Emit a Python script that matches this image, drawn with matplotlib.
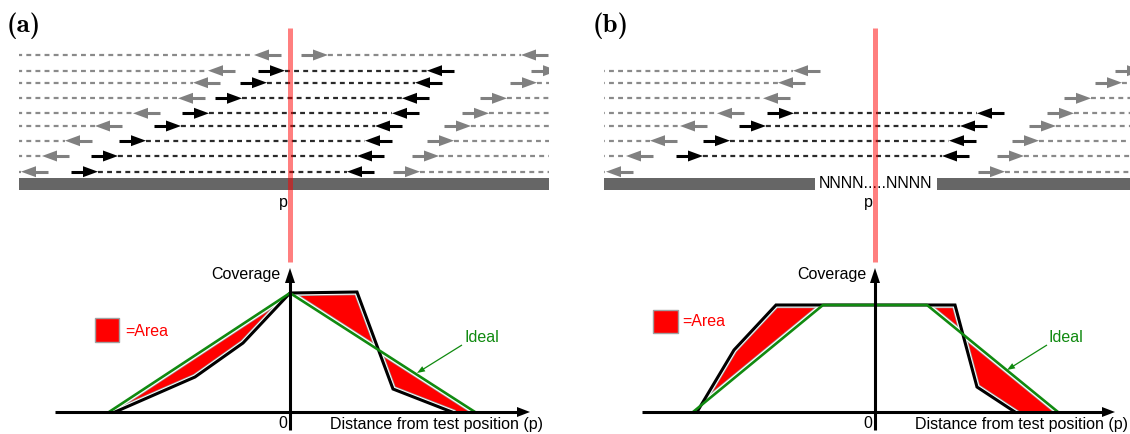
import math
import os

import matplotlib

matplotlib.use("Agg")
import matplotlib.pyplot as plt
from matplotlib.font_manager import FontProperties
from matplotlib.patches import Rectangle, Polygon

plt.rcParams["font.family"] = ["Liberation Sans", "DejaVu Sans"]
CM_BOLD = FontProperties(fname=os.path.join(matplotlib.get_data_path(), "fonts", "ttf", "cmb10.ttf"),
                         size=19.5)

# ---- layout of the read panels (pixel coordinates of the picture) ----
ROW_Y = [55, 70.7, 82.7, 98.3, 113.3, 126, 140.7, 156, 171.7]
ARROW_LEN = 27

# read pairs: (row index, tail of forward read, tail of reverse read)
# values outside the panel mean the mate lies off-screen
pairs_a = [
    (0, -100, 281), (0, 301, 548),
    (1, -100, 235), (1, 258, 454), (1, 531, 800),
    (2, -100, 220), (2, 240, 442), (2, 510, 800),
    (3, -100, 205), (3, 215, 429), (3, 480, 800),
    (4, -100, 160), (4, 182, 419), (4, 462, 800),
    (5, -100, 122), (5, 154, 402), (5, 444, 800),
    (6, -100, 92), (6, 119, 392), (6, 427, 800),
    (7, -100, 69), (7, 91, 384), (7, 412, 800),
    (8, -100, 48), (8, 71, 374), (8, 393, 800),
]
pairs_b = [
    (1, 500, 820), (1, 1115, 1400),
    (2, 500, 805), (2, 1095, 1400),
    (3, 500, 790), (3, 1064, 1400),
    (4, 500, 744), (4, 767, 1004), (4, 1047, 1400),
    (5, 500, 707), (5, 739, 987), (5, 1029, 1400),
    (6, 500, 677), (6, 703, 976), (6, 1012, 1400),
    (7, 500, 653), (7, 676, 969), (7, 997, 1400),
    (8, 500, 633), (8, 978, 1400),
]

# test position p for each panel, and reference bars (x0, x1)
P_A, P_B = 290, 875
bars_a = [(19, 549)]
bars_b = [(604, 815), (937, 1130)]

# ---- coverage profiles (pixel coordinates) ----
ideal_a_x = [109, 290, 475]
ideal_a_y = [412, 293, 412]
cov_a_x = [115, 195, 243, 290, 357, 393, 452]
cov_a_y = [412, 377, 343, 293, 292, 389, 412]

ideal_b_x = [693, 823, 927, 1058]
ideal_b_y = [412, 305, 305, 412]
cov_b_x = [697, 734, 776, 955, 977, 1015]
cov_b_y = [412, 350, 305, 305, 387, 412]

GRAY = "#808080"
DASH_GRAY = "#8a8a8a"
BLACK = "#000000"
DASH_BLACK = "#2a2a2a"
GREEN = "#108a10"


def draw_arrow(ax, x0, y0, x1, y1, color, lw, head_len, head_w, clip=None, z=4):
    length = math.hypot(x1 - x0, y1 - y0)
    ux, uy = (x1 - x0) / length, (y1 - y0) / length
    bx, by = x1 - ux * head_len, y1 - uy * head_len
    line, = ax.plot([x0, bx + ux], [y0, by + uy], color=color, lw=lw,
                    solid_capstyle="butt", zorder=z)
    px, py = -uy * head_w / 2, ux * head_w / 2
    head = Polygon([(x1, y1), (bx + px, by + py), (bx - px, by - py)],
                   closed=True, facecolor=color, edgecolor="none", zorder=z)
    ax.add_patch(head)
    if clip is not None:
        line.set_clip_path(clip)
        head.set_clip_path(clip)


def draw_reads(ax, pairs, p_x, bars, clip_box):
    clip = Rectangle(clip_box[:2], clip_box[2], clip_box[3], transform=ax.transData)
    for row, start, end in pairs:
        y = ROW_Y[row]
        spans = start < p_x < end
        col = BLACK if spans else GRAY
        dcol = DASH_BLACK if spans else DASH_GRAY
        tip_f, tip_r = start + ARROW_LEN, end - ARROW_LEN
        dl, = ax.plot([tip_f, tip_r], [y, y], color=dcol, lw=1.6,
                      linestyle=(0, (2.2, 1.9)), dash_capstyle="butt", zorder=3)
        dl.set_clip_path(clip)
        draw_arrow(ax, start, y, tip_f, y, col, 2.2, 15, 11, clip)
        draw_arrow(ax, end, y, tip_r, y, col, 2.2, 15, 11, clip)
    for x0, x1 in bars:
        ax.add_patch(Rectangle((x0, 178), x1 - x0, 12, facecolor="#666666",
                               edgecolor="none", zorder=2))
    ax.plot([p_x, p_x], [28, 262], color="red", alpha=0.5, lw=3.6,
            solid_capstyle="butt", zorder=10)
    ax.text(p_x - 7, 203, "p", fontsize=11.5, ha="center", va="center")


def draw_coverage(ax, ix, iy, cx, cy, y_axis_x, x_start):
    pts = list(zip(ix, iy)) + list(zip(cx, cy))[::-1]
    area = Polygon(pts, closed=True, facecolor="red", edgecolor="none", zorder=2)
    ax.add_patch(area)
    # grey rim and thin white gap inside the red area, along both profiles
    for lw, col, z in ((4.6, "#a0a0a0", 2.1), (3.6, "white", 2.2)):
        for xs, ys in ((cx, cy), (ix, iy)):
            rim, = ax.plot(xs, ys, color=col, lw=lw, zorder=z)
            rim.set_clip_path(area)
    ax.plot(cx, cy, color="black", lw=2.2, solid_joinstyle="miter", zorder=3)
    ax.plot(ix, iy, color=GREEN, lw=1.9, zorder=4)
    # axes
    draw_arrow(ax, x_start, 412, y_axis_x + 240, 412, "black", 2.2, 13, 10, z=5)
    draw_arrow(ax, y_axis_x, 430, y_axis_x, 268, "black", 2.2, 15, 10, z=5)
    ax.text(y_axis_x - 9, 275, "Coverage", fontsize=11.5, ha="right", va="center")
    ax.text(y_axis_x - 7, 423, "0", fontsize=11.5, ha="center", va="center")
    ax.text(y_axis_x + 40, 424, "Distance from test position (p)", fontsize=11.5,
            ha="left", va="center")


fig = plt.figure(figsize=(11.3, 4.34), dpi=100)
ax = fig.add_axes([0, 0, 1, 1])
ax.set_xlim(0, 1130)
ax.set_ylim(434, 0)
ax.axis("off")

# panel (a)
ax.text(7, 26, "(a)", fontproperties=CM_BOLD, ha="left", va="center")
draw_reads(ax, pairs_a, P_A, bars_a, (19, 20, 530, 175))
draw_coverage(ax, ideal_a_x, ideal_a_y, cov_a_x, cov_a_y, P_A, 55)
ax.add_patch(Rectangle((95, 318), 24, 24, facecolor="red", edgecolor="#a0a0a0", lw=1))
ax.text(125, 331, "=Area", color="red", fontsize=11.5, ha="left", va="center")
ax.text(465, 337, "Ideal", color=GREEN, fontsize=11.5, ha="left", va="center")
draw_arrow(ax, 462, 345, 417, 373, GREEN, 0.9, 8, 6, z=6)

# panel (b)
ax.text(593, 26, "(b)", fontproperties=CM_BOLD, ha="left", va="center")
draw_reads(ax, pairs_b, P_B, bars_b, (604, 20, 526, 175))
ax.text(876, 184, "NNNN.....NNNN", fontsize=11.5, ha="center", va="center")
draw_coverage(ax, ideal_b_x, ideal_b_y, cov_b_x, cov_b_y, P_B, 642)
ax.add_patch(Rectangle((653, 310), 25, 23, facecolor="red", edgecolor="#a0a0a0", lw=1))
ax.text(682, 322, "=Area", color="red", fontsize=11.5, ha="left", va="center")
ax.text(1049, 337, "Ideal", color=GREEN, fontsize=11.5, ha="left", va="center")
draw_arrow(ax, 1047, 345, 1007, 370, GREEN, 0.9, 8, 6, z=6)

fig.savefig("out.png", dpi=100)
